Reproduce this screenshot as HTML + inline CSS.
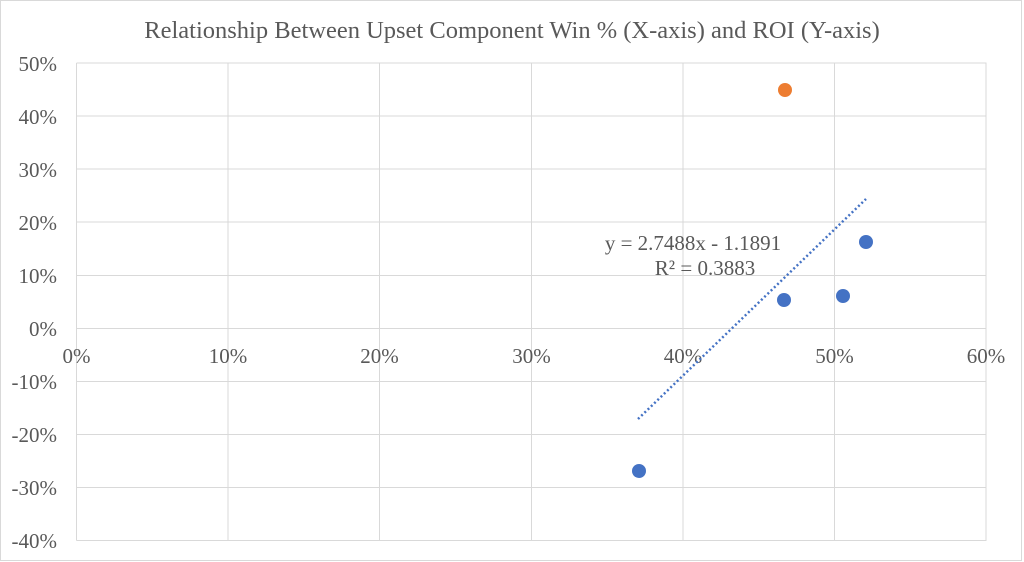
<!DOCTYPE html>
<html><head><meta charset="utf-8"><style>
html,body{margin:0;padding:0;background:#fff;}
svg{display:block;}
text{font-family:"Liberation Serif",serif;fill:#595959;}
</style></head><body>
<svg width="1024" height="562" viewBox="0 0 1024 562" xmlns="http://www.w3.org/2000/svg">
<rect x="0.5" y="0.5" width="1021" height="560" fill="#fff" stroke="#d9d9d9"/>
<text x="512" y="38" font-size="24.5" text-anchor="middle">Relationship Between Upset Component Win % (X-axis) and ROI (Y-axis)</text>
<g stroke="#d9d9d9" stroke-width="1">
<line x1="76.5" y1="63" x2="986.5" y2="63"/>
<line x1="76.5" y1="116" x2="986.5" y2="116"/>
<line x1="76.5" y1="169" x2="986.5" y2="169"/>
<line x1="76.5" y1="222" x2="986.5" y2="222"/>
<line x1="76.5" y1="275.5" x2="986.5" y2="275.5"/>
<line x1="76.5" y1="328.5" x2="986.5" y2="328.5"/>
<line x1="76.5" y1="381.5" x2="986.5" y2="381.5"/>
<line x1="76.5" y1="434.5" x2="986.5" y2="434.5"/>
<line x1="76.5" y1="487.5" x2="986.5" y2="487.5"/>
<line x1="76.5" y1="540.5" x2="986.5" y2="540.5"/>
<line x1="76.5" y1="63" x2="76.5" y2="540.5"/>
<line x1="228" y1="63" x2="228" y2="540.5"/>
<line x1="379.5" y1="63" x2="379.5" y2="540.5"/>
<line x1="531.5" y1="63" x2="531.5" y2="540.5"/>
<line x1="683" y1="63" x2="683" y2="540.5"/>
<line x1="834.5" y1="63" x2="834.5" y2="540.5"/>
<line x1="986" y1="63" x2="986" y2="540.5"/>
</g>
<g font-size="21" text-anchor="end">
<text x="57" y="71">50%</text>
<text x="57" y="124">40%</text>
<text x="57" y="177">30%</text>
<text x="57" y="230">20%</text>
<text x="57" y="283">10%</text>
<text x="57" y="336">0%</text>
<text x="57" y="389">-10%</text>
<text x="57" y="442">-20%</text>
<text x="57" y="495">-30%</text>
<text x="57" y="548">-40%</text>
</g>
<g font-size="21" text-anchor="middle">
<text x="76.5" y="363">0%</text>
<text x="228" y="363">10%</text>
<text x="379.5" y="363">20%</text>
<text x="531.5" y="363">30%</text>
<text x="683" y="363">40%</text>
<text x="834.5" y="363">50%</text>
<text x="986" y="363">60%</text>
</g>
<line x1="638" y1="419" x2="866" y2="199" stroke="#4472c4" stroke-width="2.5" stroke-dasharray="2 2.5"/>
<g fill="#4472c4">
<circle cx="639" cy="471" r="7"/>
<circle cx="784" cy="300" r="7"/>
<circle cx="843" cy="296" r="7"/>
<circle cx="866" cy="242" r="7"/>
</g>
<circle cx="785" cy="90" r="7" fill="#ed7d31"/>
<text x="693" y="250" font-size="21" text-anchor="middle">y = 2.7488x - 1.1891</text>
<text x="705" y="275" font-size="21" text-anchor="middle">R² = 0.3883</text>
</svg>
</body></html>
